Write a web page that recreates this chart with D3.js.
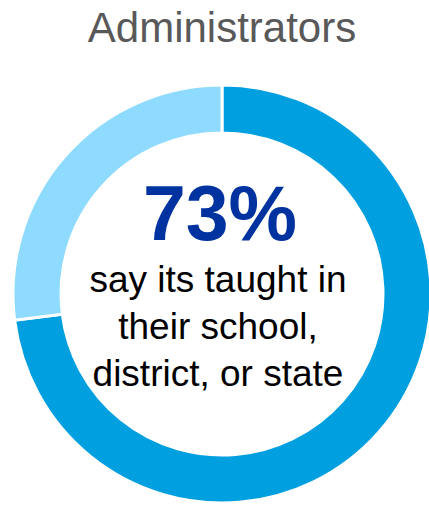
<!DOCTYPE html>
<html>
<head>
<meta charset="utf-8">
<script src="https://cdn.jsdelivr.net/npm/d3@7"></script>
<style>
  body { margin: 0; background: #fff; }
  svg { display: block; }
</style>
</head>
<body>
<svg id="chart"></svg>
<script>
// data
const title = "Administrators";
const categories = ["Taught", "Not taught"];
const values = [73, 27];
const colors = ["#009fdf", "#8edbff"];
const headline = "73%";
const captionLines = ["say its taught in", "their school,", "district, or state"];

const width = 429, height = 505;
const svg = d3.select("#chart").attr("width", width).attr("height", height);

const cx = 222, cy = 294;
const outerR = 209, innerR = 161;

// title
svg.append("text")
  .attr("x", 222)
  .attr("y", 42)
  .attr("text-anchor", "middle")
  .attr("font-family", "Liberation Sans, Arial, sans-serif")
  .attr("font-size", 42)
  .attr("fill", "#595959")
  .text(title);

// donut
const pie = d3.pie().sort(null).value(d => d);
const arc = d3.arc().innerRadius(innerR).outerRadius(outerR);

const g = svg.append("g").attr("transform", `translate(${cx},${cy})`);
g.selectAll("path")
  .data(pie(values))
  .join("path")
    .attr("d", arc)
    .attr("fill", (d, i) => colors[i])
    .attr("stroke", "#fff")
    .attr("stroke-width", 3);

// center text
svg.append("text")
  .attr("x", 220)
  .attr("y", 240)
  .attr("text-anchor", "middle")
  .attr("font-family", "Liberation Sans, Arial, sans-serif")
  .attr("font-weight", "bold")
  .attr("font-size", 77)
  .attr("fill", "#0033a0")
  .text(headline);

svg.append("g")
  .selectAll("text")
  .data(captionLines)
  .join("text")
    .attr("x", 218)
    .attr("y", (d, i) => 292 + i * 47)
    .attr("text-anchor", "middle")
    .attr("font-family", "Liberation Sans, Arial, sans-serif")
    .attr("font-size", 37)
    .attr("fill", "#000")
    .text(d => d);
</script>
</body>
</html>
